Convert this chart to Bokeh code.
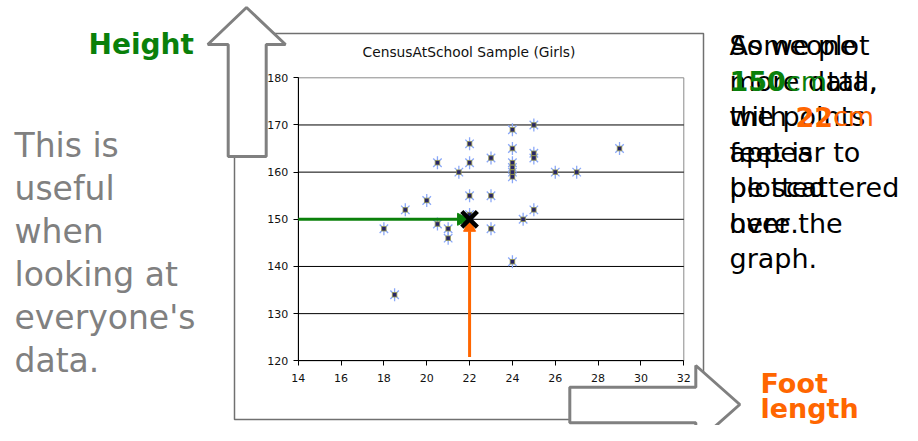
import numpy as np
from bokeh.plotting import figure
from bokeh.models import Range1d, LinearAxis, FixedTicker, Arrow, NormalHead
from bokeh.core.properties import value
from bokeh.embed import file_html
from bokeh.resources import INLINE

# ---------------- data ----------------
chart_title = "CensusAtSchool Sample (Girls)"
foot_cm = [29, 25, 24, 24, 25, 25, 24, 24, 24, 24, 26, 27, 23, 22, 22, 20.5, 21.5,
           22, 23, 20, 19, 25, 24.5, 22, 18, 20.5, 21, 21, 23, 24, 18.5]
height_cm = [165, 170, 169, 165, 164, 163, 162, 161, 160, 159, 160, 160, 163, 166, 162, 162, 160,
             155, 155, 154, 152, 152, 150, 151, 148, 149, 148, 146, 148, 141, 134]
highlight_foot = [22]
highlight_height = [150]
x_ticks = [14, 16, 18, 20, 22, 24, 26, 28, 30, 32]
y_ticks = [120, 130, 140, 150, 160, 170, 180]
y_label = "Height"
x_label_lines = ["Foot", "length"]
left_lines = ["This is", "useful", "when", "looking at", "everyone's", "data."]
note_lines = ["As we plot", "more data,", "the points", "appear to", "be scattered", "over the", "graph."]
person_line1 = "Someone"
person_height = "150"
person_foot = "22"
person_unit = "cm"
person_rest = [" tall,", "with ", "feet is", "plotted", "here."]

# ---------------- layout (picture pixels) ----------------
W, H = 902, 425
PX_X0, PX_X1 = 297.7, 683.3     # x of first / last x tick
PX_Y0, PX_Y1 = 360.3, 77.3      # y of first / last y tick
kx = (PX_X1 - PX_X0) / (x_ticks[-1] - x_ticks[0])
ky = (PX_Y0 - PX_Y1) / (y_ticks[-1] - y_ticks[0])
x_start = x_ticks[0] - PX_X0 / kx
x_end = x_start + W / kx
y_end = y_ticks[-1] + PX_Y1 / ky
y_start = y_end - H / ky
BASE_K = 0.36   # baseline correction, fraction of font size


def X(px):
    return x_start + px / kx


def Y(py):
    return y_end - py / ky


def YB(py, fs):
    """baseline position corrected for text rendering offset"""
    return Y(py - BASE_K * fs)


GREEN = "#0a800a"
ORANGE = "#ff6600"
GREY = "#808080"
FONT = value("DejaVu Sans")

p = figure(width=W, height=H, x_range=Range1d(x_start, x_end), y_range=Range1d(y_start, y_end),
           x_axis_type=None, y_axis_type=None, toolbar_location=None, min_border=0,
           output_backend="svg", outline_line_color=None,
           background_fill_color="white", border_fill_color="white")
p.xgrid.visible = False
p.ygrid.visible = False

# chart box
p.quad(left=[X(234)], right=[X(703)], top=[Y(33)], bottom=[Y(419)],
       fill_color="white", line_color="#707070", line_width=1.5)
# plot area
p.quad(left=[x_ticks[0]], right=[x_ticks[-1]], top=[y_ticks[-1]], bottom=[y_ticks[0]],
       fill_color="white", line_color="#8a8a8a", line_width=1)

# horizontal grid lines inside the plot area
inner = y_ticks[1:-1]
p.segment(x0=[x_ticks[0]] * len(inner), x1=[x_ticks[-1]] * len(inner), y0=inner, y1=inner,
          line_color="black", line_width=1)

xax = LinearAxis(fixed_location=y_ticks[0], bounds=(x_ticks[0], x_ticks[-1]),
                 ticker=FixedTicker(ticks=x_ticks))
yax = LinearAxis(fixed_location=x_ticks[0], bounds=(y_ticks[0], y_ticks[-1]),
                 ticker=FixedTicker(ticks=y_ticks))
for ax in (xax, yax):
    ax.axis_line_color = "black"
    ax.axis_line_width = 1
    ax.major_tick_line_color = "black"
    ax.major_tick_out = 5
    ax.major_tick_in = 0
    ax.minor_tick_line_color = None
    ax.major_label_text_font = "DejaVu Sans"
    ax.major_label_text_font_size = "11px"
    ax.major_label_text_color = "#111111"
xax.major_label_standoff = 8
yax.major_label_standoff = 5
p.add_layout(xax, "below")
p.add_layout(yax, "left")

# title (centred on the chart box)
TFS = 13.8
p.text(x=[X((234 + 703) / 2)], y=[YB(56.5, TFS)], text=[chart_title], text_font=FONT,
       text_font_size=f"{TFS}px", text_color="#111111", text_align="center", text_baseline="alphabetic")

# markers
STAR = "#8aa8f8"
p.scatter(foot_cm, height_cm, marker="x", size=12, line_color=STAR, line_width=1.3)
p.scatter(foot_cm, height_cm, marker="dash", angle=np.pi / 2, size=13, line_color=STAR, line_width=1.3)
p.scatter(foot_cm, height_cm, marker="square", size=4.5, fill_color="#262668",
          line_color="#9c9c48", line_width=0.8)

# guide arrows to highlighted point
p.add_layout(Arrow(end=NormalHead(size=12, fill_color=GREEN, line_color=GREEN),
                   x_start=x_ticks[0], y_start=highlight_height[0],
                   x_end=highlight_foot[0], y_end=highlight_height[0],
                   line_color=GREEN, line_width=3))
p.add_layout(Arrow(end=NormalHead(size=12, fill_color=ORANGE, line_color=ORANGE),
                   x_start=highlight_foot[0], y_start=y_ticks[0] + 0.8,
                   x_end=highlight_foot[0], y_end=highlight_height[0],
                   line_color=ORANGE, line_width=3))
xr = p.scatter(highlight_foot, highlight_height, marker="x", size=22, line_color="black", line_width=4.5)
xr.level = "overlay"

# big hollow arrows
up_px = [(246, 7), (285, 44), (265.7, 44), (265.7, 156), (227.7, 156), (227.7, 44), (207.3, 44)]
right_px = [(569.3, 386.7), (695.3, 386.7), (695.3, 365), (739.3, 404), (695.3, 443),
            (695.3, 422.3), (569.3, 422.3)]
for pts in (up_px, right_px):
    p.patch([X(a) for a, b in pts], [Y(b) for a, b in pts], fill_color="white",
            line_color=GREY, line_width=3)

# axis name labels
p.text(x=[X(88)], y=[YB(54, 28)], text=[y_label], text_font=FONT, text_font_style="bold",
       text_font_size="28px", text_color=GREEN, text_baseline="alphabetic")
FFS = 27
p.text(x=[X(760)] * 2, y=[YB(393, FFS), YB(417.5, FFS)], text=x_label_lines, text_font=FONT,
       text_font_style="bold", text_font_size=f"{FFS}px", text_color=ORANGE, text_baseline="alphabetic")

# left gray text
LFS = 33
left_base = [157 + 43 * i for i in range(len(left_lines))]
p.text(x=[X(14)] * len(left_lines), y=[YB(b, LFS) for b in left_base], text=left_lines, text_font=FONT,
       text_font_size=f"{LFS}px", text_color=GREY, text_baseline="alphabetic")

# right overlapping texts
FS = 27
RX = 729
rbase = [55 + 35.5 * i for i in range(len(note_lines))]
p.text(x=[X(RX)] * len(note_lines), y=[YB(b, FS) for b in rbase], text=note_lines, text_font=FONT,
       text_font_size=f"{FS}px", text_color="black", text_baseline="alphabetic")

w_bold_digit = 0.696
w_cm = 0.550 + 0.974
w_with = 0.818 + 0.278 + 0.392 + 0.634 + 0.318


def seg(xpx, line, txt, color, bold=False):
    p.text(x=[X(xpx)], y=[YB(rbase[line], FS)], text=[txt], text_font=FONT,
           text_font_style="bold" if bold else "normal", text_font_size=f"{FS}px",
           text_color=color, text_baseline="alphabetic")


seg(RX, 0, person_line1, "black")
x1 = RX + len(person_height) * w_bold_digit * FS
seg(RX, 1, person_height, GREEN, True)
seg(x1, 1, person_unit, GREEN)
seg(x1 + w_cm * FS, 1, person_rest[0], "black")
seg(RX, 2, person_rest[1], "black")
x2 = RX + w_with * FS
seg(x2, 2, person_foot, ORANGE, True)
seg(x2 + len(person_foot) * w_bold_digit * FS, 2, person_unit, ORANGE)
seg(RX, 3, person_rest[2], "black")
seg(RX, 4, person_rest[3], "black")
seg(RX, 5, person_rest[4], "black")

open("out.html", "w").write(file_html(p, INLINE))
